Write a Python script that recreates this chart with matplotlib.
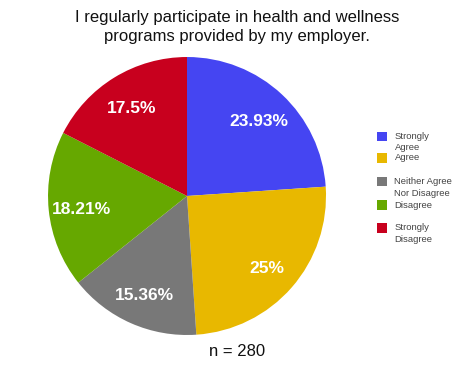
import matplotlib
matplotlib.use("Agg")
import matplotlib.pyplot as plt
from matplotlib.patches import Rectangle
import numpy as np

categories = ["Strongly Agree", "Agree", "Neither Agree Nor Disagree", "Disagree", "Strongly Disagree"]
legend_labels = ["Strongly\nAgree", "Agree", "Neither Agree\nNor Disagree", "Disagree", "Strongly\nDisagree"]
values = [23.93, 25.0, 15.36, 18.21, 17.5]
pct_labels = ["23.93%", "25%", "15.36%", "18.21%", "17.5%"]
colors = ["#4545F2", "#E8B800", "#787878", "#66A800", "#C8001E"]
title = "I regularly participate in health and wellness\nprograms provided by my employer."
n_text = "n = 280"

plt.rcParams['font.family'] = ['Liberation Sans', 'DejaVu Sans']

W, H = 474, 365
fig = plt.figure(figsize=(W / 100, H / 100), dpi=100)
ax = fig.add_axes([0.1013, 0.0822, 0.5865, 0.7616])
wedges, _ = ax.pie(values, colors=colors, startangle=90, counterclock=False,
                   wedgeprops=dict(linewidth=0))
for w, lab in zip(wedges, pct_labels):
    ang = np.deg2rad((w.theta1 + w.theta2) / 2)
    r = 0.76
    ax.text(r * np.cos(ang), r * np.sin(ang) - 0.02, lab, ha='center', va='center',
            color='white', fontsize=12.5, fontweight='bold')
ax.set_aspect('equal')
ax.set_xlim(-1, 1)
ax.set_ylim(-1, 1)

fig.text(0.5, 1 - 10 / H, title, ha='center', va='top', fontsize=12, color='#111111', linespacing=1.3)
fig.text(0.5, 1 - 352 / H, n_text, ha='center', va='center', fontsize=12, color='#111111')

# legend (drawn manually so the first text line aligns with the swatch)
tops = [131.5, 153, 177, 200, 223]
for top, col, lab in zip(tops, colors, legend_labels):
    fig.add_artist(Rectangle((377 / W, 1 - (top + 9.5) / H), 10 / W, 9.5 / H,
                             transform=fig.transFigure, facecolor=col, edgecolor='none'))
    fig.text(394.5 / W, 1 - (top + 0.5) / H, lab, ha='left', va='top', fontsize=6.8,
             color='#444444', linespacing=1.3)

fig.savefig("out.png", dpi=100)
